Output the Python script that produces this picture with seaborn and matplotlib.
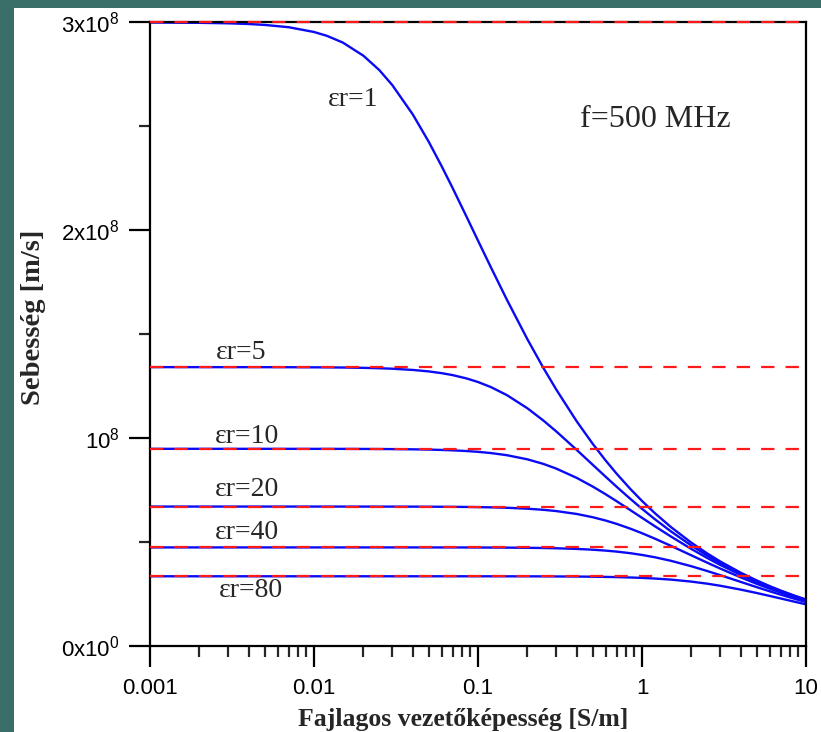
import matplotlib
matplotlib.use("Agg")
import matplotlib.pyplot as plt
from matplotlib.patches import Rectangle
from matplotlib.ticker import LogLocator, MultipleLocator, FuncFormatter, NullFormatter
import seaborn as sns
import pandas as pd

# Conductivity samples [S/m]
sigma = [0.001, 0.002, 0.003, 0.004, 0.005, 0.007, 0.01, 0.012, 0.015, 0.02,
         0.025, 0.03, 0.04, 0.05, 0.06, 0.07, 0.085, 0.1, 0.12, 0.15,
         0.2, 0.25, 0.3, 0.4, 0.5, 0.6, 0.7, 0.85, 1, 1.2,
         1.5, 2, 2.5, 3, 4, 5, 6, 7, 8.5, 10]

# Relative permittivities of the curves
eps_r = [1, 5, 10, 20, 40, 80]

# Phase velocity for each permittivity, in units of 1e8 m/s
v_eps1 = [2.9975, 2.996, 2.9937, 2.9903, 2.986, 2.975, 2.952, 2.9334, 2.901, 2.838,
          2.769, 2.697, 2.556, 2.425, 2.307, 2.202, 2.0651, 1.949, 1.8198, 1.665,
          1.475, 1.3379, 1.233, 1.0799, 0.9726, 0.892, 0.8286, 0.7545, 0.6974, 0.6381,
          0.572, 0.4966, 0.4448, 0.4064, 0.3523, 0.3154, 0.288, 0.2667, 0.2421, 0.2233]
v_eps5 = [1.3407, 1.3407, 1.3406, 1.3406, 1.3405, 1.3403, 1.3398, 1.3395, 1.3388, 1.3373,
          1.3354, 1.3331, 1.3273, 1.3202, 1.3118, 1.3024, 1.2865, 1.2692, 1.2446, 1.2062,
          1.1430, 1.0844, 1.0317, 0.9427, 0.8717, 0.8138, 0.7657, 0.7070, 0.6597, 0.6092,
          0.5512, 0.4829, 0.4350, 0.3989, 0.3475, 0.3119, 0.2853, 0.2646, 0.2406, 0.2221]
v_eps10 = [0.9480, 0.9480, 0.9480, 0.9480, 0.9480, 0.9479, 0.9478, 0.9478, 0.9477, 0.9474,
           0.9470, 0.9466, 0.9456, 0.9442, 0.9426, 0.9407, 0.9374, 0.9335, 0.9276, 0.9173,
           0.8975, 0.8756, 0.8529, 0.8082, 0.7668, 0.7295, 0.6962, 0.6530, 0.6163, 0.5754,
           0.5265, 0.4665, 0.4231, 0.3898, 0.3415, 0.3076, 0.2821, 0.2620, 0.2386, 0.2205]
v_eps20 = [0.6704, 0.6704, 0.6704, 0.6704, 0.6704, 0.6704, 0.6704, 0.6704, 0.6703, 0.6703,
           0.6702, 0.6702, 0.6700, 0.6697, 0.6694, 0.6691, 0.6685, 0.6677, 0.6666, 0.6645,
           0.6601, 0.6548, 0.6487, 0.6347, 0.6192, 0.6032, 0.5872, 0.5640, 0.5423, 0.5159,
           0.4816, 0.4359, 0.4005, 0.3723, 0.3299, 0.2992, 0.2756, 0.2569, 0.2347, 0.2175]
v_eps40 = [0.4740, 0.4740, 0.4740, 0.4740, 0.4740, 0.4740, 0.4740, 0.4740, 0.4740, 0.4740,
           0.4740, 0.4740, 0.4740, 0.4739, 0.4738, 0.4738, 0.4737, 0.4735, 0.4733, 0.4729,
           0.4721, 0.4711, 0.4698, 0.4667, 0.4630, 0.4586, 0.4539, 0.4461, 0.4378, 0.4265,
           0.4096, 0.3834, 0.3604, 0.3405, 0.3082, 0.2832, 0.2632, 0.2469, 0.2272, 0.2115]
v_eps80 = [0.3352, 0.3352, 0.3352, 0.3352, 0.3352, 0.3352, 0.3352, 0.3352, 0.3352, 0.3352,
           0.3352, 0.3352, 0.3352, 0.3352, 0.3352, 0.3352, 0.3352, 0.3351, 0.3351, 0.3350,
           0.3349, 0.3347, 0.3344, 0.3339, 0.3331, 0.3322, 0.3312, 0.3294, 0.3274, 0.3243,
           0.3192, 0.3096, 0.2996, 0.2897, 0.2711, 0.2549, 0.2408, 0.2286, 0.2131, 0.2003]

# Lossless (sigma = 0) velocity for each permittivity, 1e8 m/s
v_lossless = [2.998, 1.341, 0.948, 0.670, 0.474, 0.335]

curve_labels = ["εr=1", "εr=5", "εr=10", "εr=20", "εr=40", "εr=80"]
label_x = [0.0172, 0.0036, 0.0039, 0.0039, 0.0039, 0.0041]
label_y = [2.625, 1.413, 1.005, 0.750, 0.548, 0.269]

series = [v_eps1, v_eps5, v_eps10, v_eps20, v_eps40, v_eps80]
rows = []
for e, vals in zip(eps_r, series):
    for s, v in zip(sigma, vals):
        rows.append({"sigma": s, "v": v * 1e8, "eps": str(e)})
df = pd.DataFrame(rows)

sns.set_style("ticks")
plt.rcParams["font.family"] = ["Liberation Sans", "DejaVu Sans"]

fig = plt.figure(figsize=(8.21, 7.32), dpi=100)
fig.patch.set_facecolor("#3a6e68")
fig.add_artist(Rectangle((14 / 821, 0), 1, 1 - 8 / 732, transform=fig.transFigure,
                         facecolor="white", edgecolor="none", zorder=-1))
ax = fig.add_axes([150 / 821, 1 - 646 / 732, 656 / 821, 624 / 732])

sns.lineplot(data=df, x="sigma", y="v", hue="eps", units="eps", estimator=None,
             palette=["#0a0af5"] * len(eps_r), linewidth=1.7, legend=False, ax=ax,
             zorder=2)
for v0 in v_lossless:
    ax.axhline(v0 * 1e8, color="#ff1a1a", linestyle=(0, (6, 5)), linewidth=1.6,
               zorder=3, clip_on=False)

ax.set_xscale("log")
ax.set_xlim(0.001, 10)
ax.set_ylim(0, 3e8)

for sp in ax.spines.values():
    sp.set_linewidth(1.6)
    sp.set_color("black")

ax.xaxis.set_major_locator(LogLocator(base=10, numticks=10))
ax.xaxis.set_minor_locator(LogLocator(base=10, subs=range(2, 10), numticks=20))
ax.xaxis.set_minor_formatter(NullFormatter())
ax.xaxis.set_major_formatter(FuncFormatter(lambda x, p: f"{x:g}"))
ax.yaxis.set_major_locator(MultipleLocator(1e8))
ax.yaxis.set_minor_locator(MultipleLocator(0.5e8))


def sci_label(y, pos):
    if y == 0:
        return r"$\mathregular{0x10^{0}}$"
    if y == 1e8:
        return r"$\mathregular{10^{8}}$"
    return r"$\mathregular{%dx10^{8}}$" % round(y / 1e8)


ax.yaxis.set_major_formatter(FuncFormatter(sci_label))
ax.tick_params(axis="both", which="major", direction="out", length=15, width=1.6,
               labelsize=16, colors="black")
ax.tick_params(axis="both", which="minor", direction="out", length=8, width=1.6)
ax.tick_params(axis="x", which="major", pad=8)
ax.tick_params(axis="y", which="major", pad=7)

ax.set_xlabel("Fajlagos vezetőképesség [S/m]", family="Liberation Serif",
              fontweight="bold", fontsize=18.5)
ax.xaxis.set_label_coords(0.477, -0.100)
ax.set_ylabel("Sebesség [m/s]", family="Liberation Serif", fontweight="bold",
              fontsize=20.5)
ax.yaxis.set_label_coords(-0.158, 0.526)

for txt, lx, ly in zip(curve_labels, label_x, label_y):
    ax.text(lx, ly * 1e8, txt, family="Liberation Serif", fontsize=20,
            ha="center", va="center")
ax.text(1.2, 2.53e8, "f=500 MHz", family="Liberation Serif", fontsize=23,
        ha="center", va="center")

fig.savefig("out.png", dpi=100)
